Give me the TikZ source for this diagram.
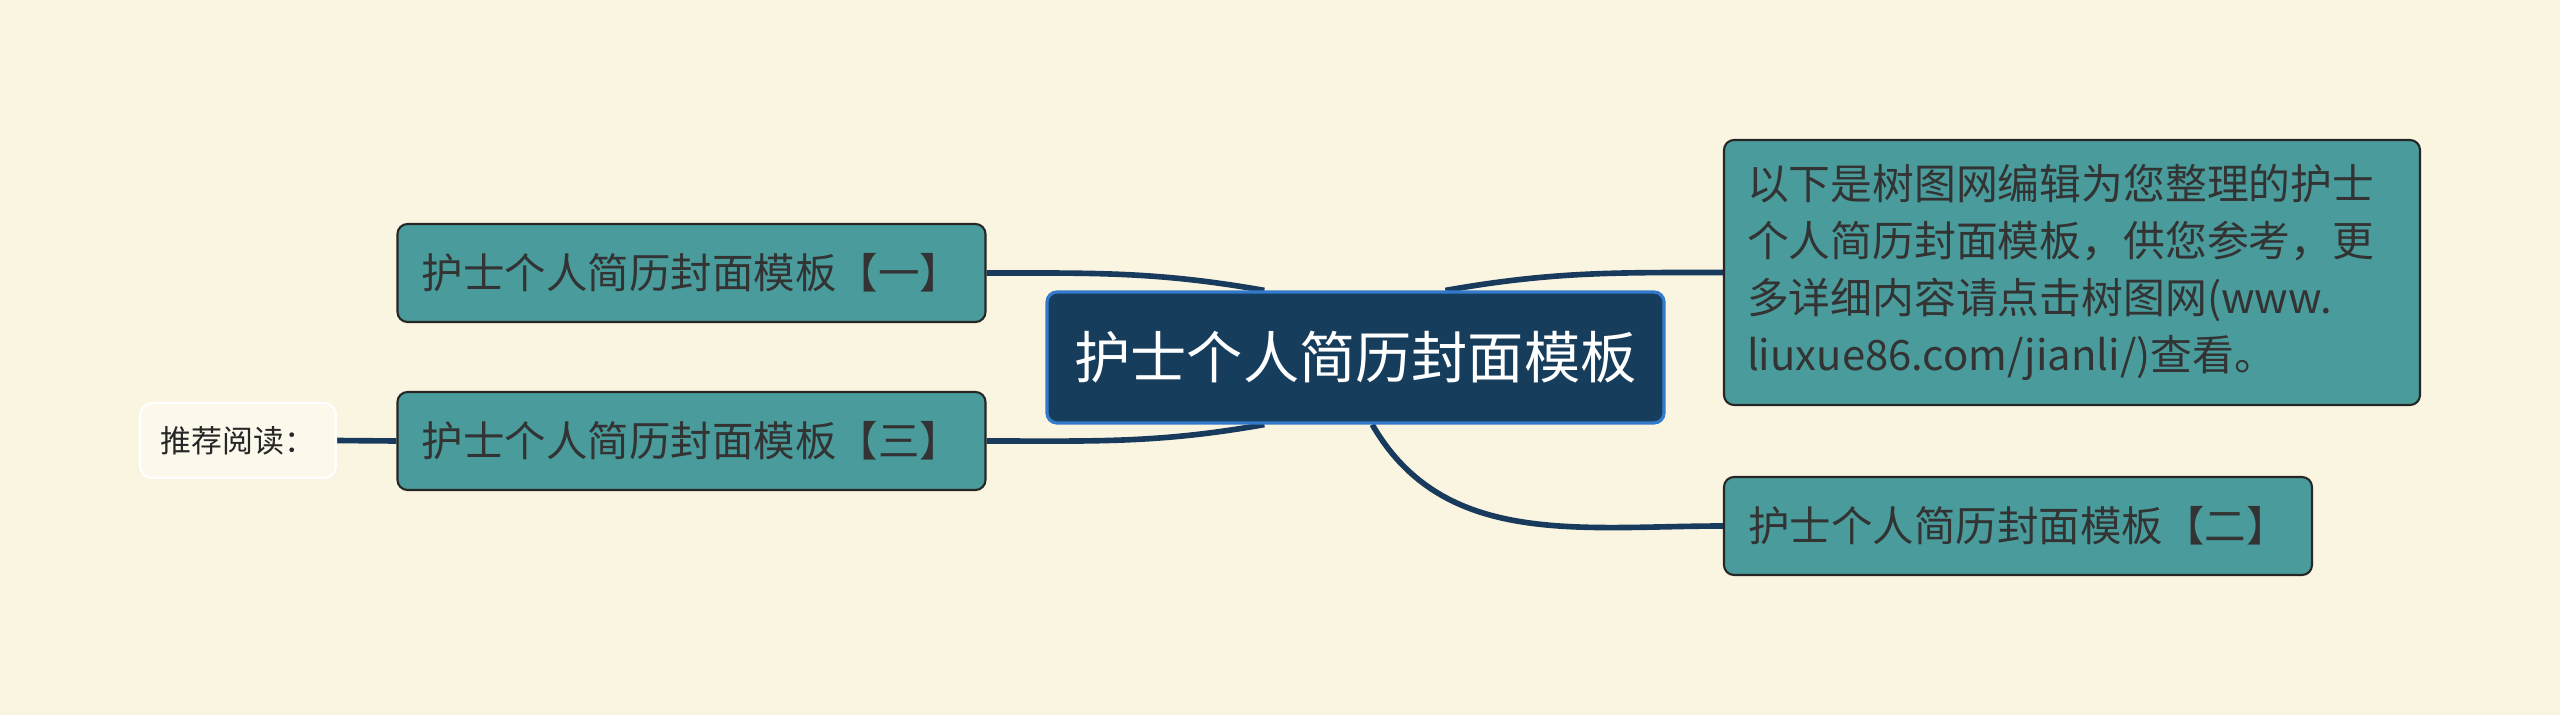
\documentclass[tikz,border=0pt]{standalone}
\usepackage{fontspec}
\setmainfont{Noto Sans CJK SC}
\usepackage{xcolor}
\usetikzlibrary{positioning,calc,backgrounds}

\definecolor{paper}{RGB}{250,245,224}
\definecolor{teal}{RGB}{74,155,155}
\definecolor{navy}{RGB}{23,61,92}
\definecolor{rimblue}{RGB}{52,122,204}
\definecolor{linknavy}{RGB}{24,58,92}
\definecolor{ink}{RGB}{51,51,51}
\definecolor{notepaper}{RGB}{252,249,236}

\tikzset{
  topic/.style={draw=rimblue, line width=0.9pt, fill=navy, rounded corners=0.1cm,
    text=white, minimum width=6.17cm, minimum height=1.31cm,
    font=\fontsize{16pt}{19pt}\selectfont},
  branch/.style={draw=black!85, line width=0.6pt, fill=teal, rounded corners=0.1cm,
    text=ink, minimum width=5.88cm, minimum height=0.98cm,
    font=\fontsize{11.8pt}{14pt}\selectfont},
  note/.style={branch, minimum width=6.96cm, minimum height=2.65cm,
    text width=6.5cm, align=left, inner xsep=0.2cm,
    font=\fontsize{11.9pt}{16.2pt}\selectfont},
  tag/.style={draw=white, line width=0.6pt, fill=notepaper, rounded corners=0.12cm,
    text=black!85, minimum width=1.96cm, minimum height=0.75cm,
    font=\fontsize{8.8pt}{11pt}\selectfont},
  link/.style={draw=linknavy, line width=1.6pt},
}

\begin{document}
\begin{tikzpicture}
    \useasboundingbox (0,0) rectangle (25.6,7.15);

    % central topic
    \node[topic] (root) at (13.555,3.575) {护士个人简历封面模板};

    % left side
    \node[branch] (tmplA) at (6.915,4.42) {护士个人简历封面模板【一】};
    \node[branch] (tmplC) at (6.915,2.74) {护士个人简历封面模板【三】};
    \node[tag] (more) at (2.38,2.745) {推荐阅读：};

    % right side
    \node[note] (intro) at (20.72,4.425) {以下是树图网编辑为您整理的护士\\个人简历封面模板，供您参考，更\\多详细内容请点击树图网(www.\\liuxue86.com/jianli/)查看。};
    \node[branch] (tmplB) at (20.18,1.89) {护士个人简历封面模板【二】};

    \begin{scope}[on background layer]
        \fill[paper] (0,0) rectangle (25.6,7.15);
        \draw[link] (tmplA.east) to[out=0,in=170] ($(root.north west)!0.353!(root.north east)$);
        \draw[link] (tmplC.east) to[out=0,in=190] ($(root.south west)!0.353!(root.south east)$);
        \draw[link] ($(root.north west)!0.645!(root.north east)$) to[out=10,in=180] (intro.west);
        \draw[link] ($(root.south west)!0.527!(root.south east)$) to[out=-60,in=180] (tmplB.west);
        \draw[link] (more.east) -- (tmplC.west);
    \end{scope}
\end{tikzpicture}
\end{document}
